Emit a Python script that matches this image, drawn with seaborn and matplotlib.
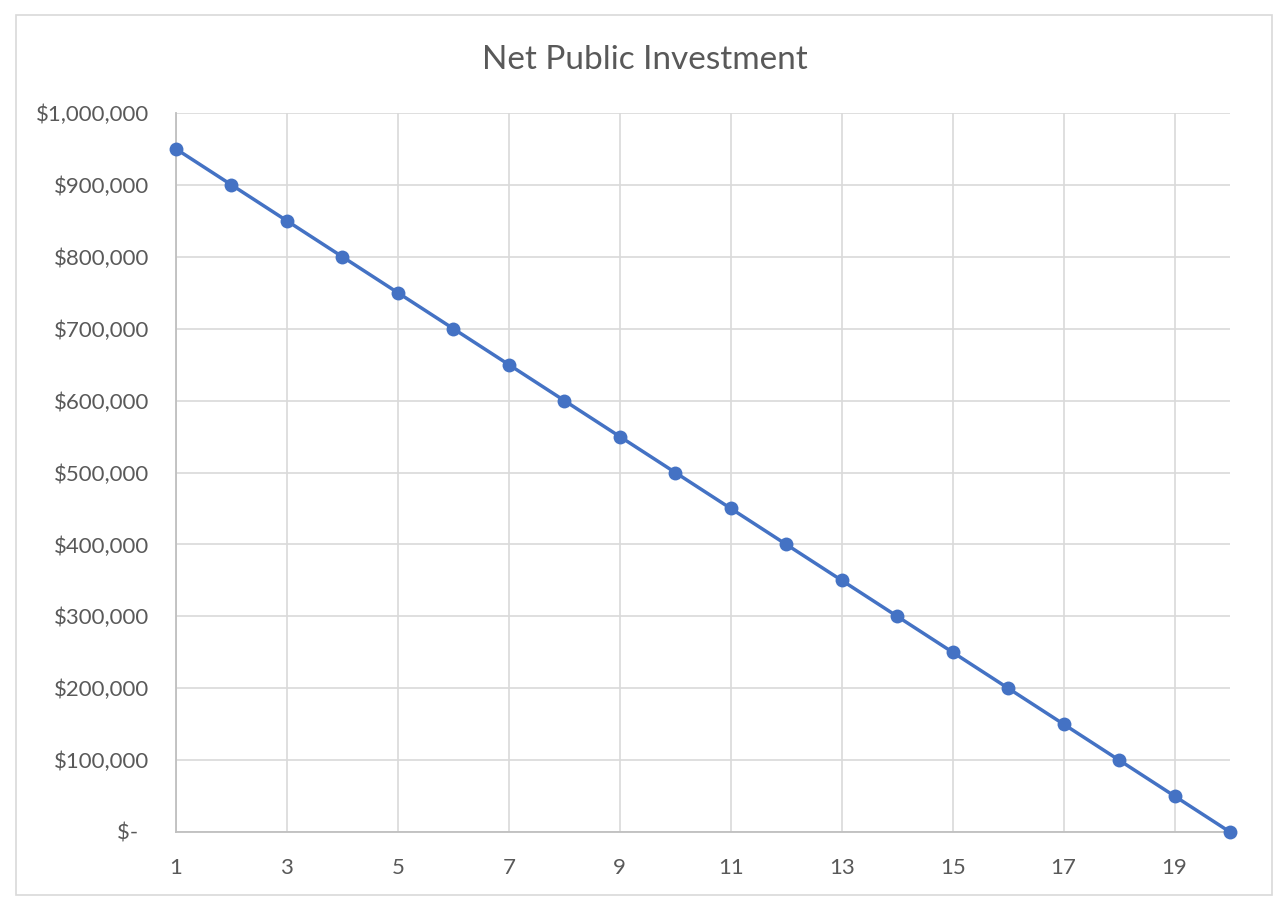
import matplotlib
matplotlib.use("Agg")
import matplotlib.pyplot as plt
import seaborn as sns
import pandas as pd
from matplotlib.patches import Rectangle
from matplotlib.ticker import FuncFormatter, FixedLocator

periods = list(range(1, 21))
investment = [950000, 900000, 850000, 800000, 750000, 700000, 650000, 600000,
              550000, 500000, 450000, 400000, 350000, 300000, 250000, 200000,
              150000, 100000, 50000, 0]
x_ticks = [1, 3, 5, 7, 9, 11, 13, 15, 17, 19]
y_ticks = [0, 100000, 200000, 300000, 400000, 500000, 600000, 700000, 800000, 900000, 1000000]
title = "Net Public Investment"

sns.set_style("white")
plt.rcParams['font.family'] = ['Lato', 'DejaVu Sans']

df = pd.DataFrame({"period": periods, "value": investment})

W, H = 1288, 911
fig = plt.figure(figsize=(W / 100, H / 100), dpi=100)
ax = fig.add_axes([176 / W, 1 - 832 / H, (1230 - 176) / W, (832 - 113) / H])

color = "#4472C4"
sns.lineplot(data=df, x="period", y="value", ax=ax, color=color, linewidth=2.5,
             marker="o", markersize=10, markeredgewidth=0, zorder=3)
for ln in ax.get_lines():
    ln.set_clip_on(False)

ax.set_xlim(1, 20)
ax.set_ylim(0, 1000000)
ax.xaxis.set_major_locator(FixedLocator(x_ticks))
ax.yaxis.set_major_locator(FixedLocator(y_ticks))

def money(v, pos):
    if v == 0:
        return "$-  "
    return "${:,.0f}".format(v)

ax.yaxis.set_major_formatter(FuncFormatter(money))
ax.grid(True, color="#d9d9d9", linewidth=1.2, zorder=0)
ax.set_axisbelow(True)
ax.set_xlabel("")
ax.set_ylabel("")
for s in ["top", "right"]:
    ax.spines[s].set_visible(False)
for s in ["left", "bottom"]:
    ax.spines[s].set_color("#bfbfbf")
    ax.spines[s].set_linewidth(1.3)
ax.tick_params(axis="both", length=0, labelsize=16, colors="#595959")
ax.tick_params(axis="y", pad=19)
ax.tick_params(axis="x", pad=19)

fig.text(645 / W, 1 - 60 / H, title, ha="center", va="center", fontsize=24, color="#595959")

fig.add_artist(Rectangle((16 / W, 1 - 895 / H), (1272 - 16) / W, (895 - 15) / H,
                         transform=fig.transFigure, fill=False, edgecolor="#d9d9d9", linewidth=1.2))

fig.savefig("out.png", dpi=100, facecolor="white")
